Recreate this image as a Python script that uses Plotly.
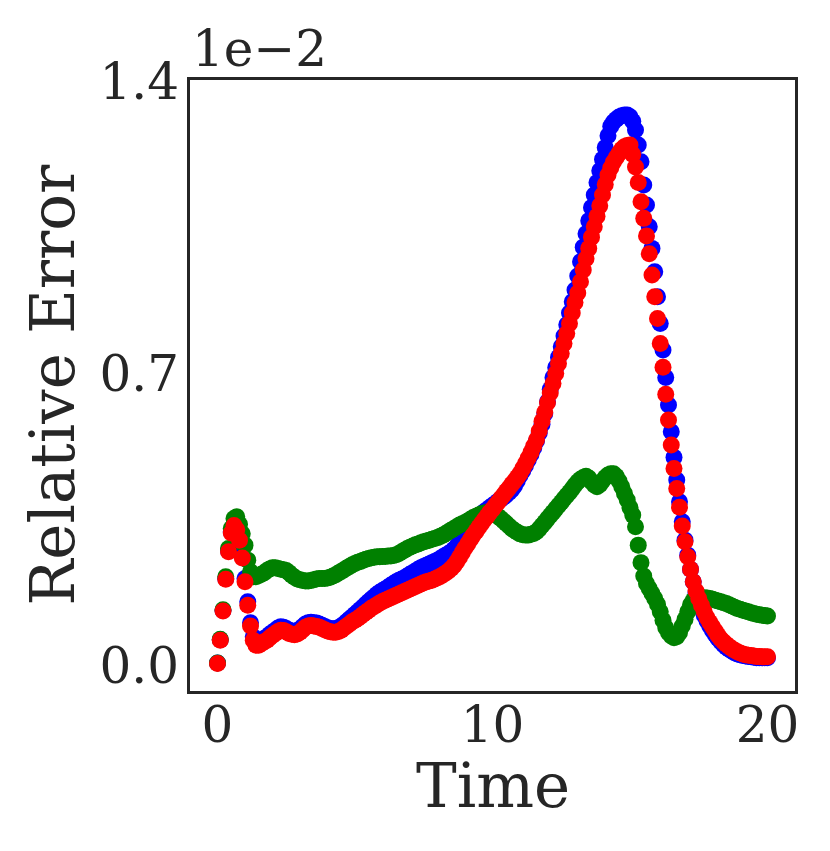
import plotly.graph_objects as go

# time grid: one sample every 0.1 from 0 to 20
time = [round(0.1 * i, 1) for i in range(201)]

# relative error (in units of 1e-2)
blue_err = [
    0.005, 0.061, 0.131, 0.208, 0.274, 0.320, 0.338, 0.330, 0.305, 0.263,
    0.208, 0.152, 0.102, 0.068, 0.056, 0.056, 0.060, 0.064, 0.068, 0.074,
    0.079, 0.084, 0.089, 0.092, 0.091, 0.088, 0.084, 0.082, 0.081, 0.083,
    0.087, 0.093, 0.099, 0.102, 0.103, 0.102, 0.101, 0.099, 0.096, 0.093,
    0.090, 0.088, 0.087, 0.088, 0.090, 0.094, 0.099, 0.105, 0.111, 0.116,
    0.122, 0.128, 0.134, 0.140, 0.147, 0.153, 0.159, 0.164, 0.170, 0.175,
    0.179, 0.183, 0.187, 0.192, 0.196, 0.200, 0.204, 0.207, 0.210, 0.214,
    0.218, 0.222, 0.226, 0.230, 0.234, 0.237, 0.240, 0.243, 0.246, 0.249,
    0.252, 0.256, 0.260, 0.264, 0.268, 0.272, 0.278, 0.285, 0.294, 0.303,
    0.312, 0.322, 0.332, 0.340, 0.348, 0.356, 0.362, 0.368, 0.373, 0.378,
    0.383, 0.388, 0.393, 0.398, 0.403, 0.408, 0.414, 0.421, 0.430, 0.442,
    0.455, 0.466, 0.479, 0.492, 0.506, 0.521, 0.538, 0.557, 0.578, 0.603,
    0.632, 0.662, 0.690, 0.714, 0.739, 0.764, 0.790, 0.817, 0.845, 0.872,
    0.900, 0.934, 0.968, 1.003, 1.035, 1.066, 1.098, 1.128, 1.158, 1.186,
    1.214, 1.242, 1.270, 1.293, 1.303, 1.310, 1.315, 1.318, 1.320, 1.320,
    1.316, 1.305, 1.284, 1.248, 1.208, 1.152, 1.104, 1.052, 1.000, 0.944,
    0.884, 0.820, 0.756, 0.690, 0.624, 0.560, 0.499, 0.444, 0.392, 0.344,
    0.300, 0.264, 0.230, 0.200, 0.173, 0.153, 0.136, 0.120, 0.106, 0.094,
    0.083, 0.073, 0.064, 0.056, 0.049, 0.043, 0.038, 0.034, 0.030, 0.027,
    0.025, 0.023, 0.022, 0.021, 0.020, 0.019, 0.018, 0.018, 0.018, 0.018,
    0.018,
]

green_err = [
    0.005, 0.062, 0.133, 0.212, 0.280, 0.328, 0.352, 0.356, 0.338, 0.315,
    0.288, 0.252, 0.224, 0.212, 0.212, 0.215, 0.218, 0.222, 0.227, 0.231,
    0.234, 0.234, 0.232, 0.230, 0.229, 0.227, 0.222, 0.216, 0.211, 0.207,
    0.205, 0.203, 0.202, 0.202, 0.203, 0.205, 0.207, 0.208, 0.208, 0.208,
    0.209, 0.211, 0.214, 0.217, 0.221, 0.225, 0.229, 0.233, 0.237, 0.241,
    0.244, 0.247, 0.249, 0.252, 0.254, 0.256, 0.258, 0.259, 0.260, 0.260,
    0.261, 0.261, 0.262, 0.262, 0.263, 0.265, 0.268, 0.272, 0.276, 0.280,
    0.283, 0.286, 0.289, 0.291, 0.294, 0.296, 0.298, 0.300, 0.302, 0.304,
    0.306, 0.309, 0.312, 0.316, 0.320, 0.324, 0.328, 0.332, 0.336, 0.339,
    0.342, 0.346, 0.350, 0.354, 0.357, 0.360, 0.363, 0.365, 0.366, 0.366,
    0.364, 0.361, 0.357, 0.352, 0.346, 0.340, 0.334, 0.328, 0.323, 0.319,
    0.315, 0.313, 0.312, 0.312, 0.314, 0.316, 0.320, 0.327, 0.335, 0.343,
    0.351, 0.359, 0.367, 0.375, 0.383, 0.391, 0.399, 0.407, 0.415, 0.423,
    0.432, 0.440, 0.446, 0.450, 0.453, 0.449, 0.440, 0.432, 0.428, 0.433,
    0.442, 0.450, 0.456, 0.459, 0.459, 0.453, 0.442, 0.428, 0.412, 0.396,
    0.378, 0.360, 0.332, 0.288, 0.246, 0.214, 0.196, 0.184, 0.172, 0.160,
    0.146, 0.128, 0.108, 0.090, 0.078, 0.070, 0.066, 0.068, 0.078, 0.094,
    0.110, 0.128, 0.145, 0.156, 0.160, 0.162, 0.162, 0.162, 0.161, 0.160,
    0.158, 0.156, 0.154, 0.152, 0.150, 0.148, 0.145, 0.142, 0.139, 0.136,
    0.134, 0.132, 0.130, 0.128, 0.126, 0.124, 0.122, 0.121, 0.120, 0.119,
    0.118,
]

red_err = [
    0.004, 0.060, 0.130, 0.206, 0.272, 0.317, 0.335, 0.325, 0.300, 0.257,
    0.200, 0.144, 0.094, 0.060, 0.048, 0.048, 0.052, 0.056, 0.060, 0.066,
    0.071, 0.076, 0.081, 0.084, 0.083, 0.080, 0.076, 0.074, 0.073, 0.075,
    0.079, 0.085, 0.091, 0.094, 0.095, 0.094, 0.093, 0.091, 0.088, 0.085,
    0.082, 0.080, 0.079, 0.079, 0.081, 0.084, 0.089, 0.094, 0.099, 0.104,
    0.108, 0.112, 0.117, 0.122, 0.127, 0.132, 0.137, 0.141, 0.145, 0.149,
    0.153, 0.156, 0.159, 0.162, 0.165, 0.168, 0.171, 0.174, 0.177, 0.180,
    0.183, 0.186, 0.189, 0.192, 0.195, 0.198, 0.200, 0.202, 0.204, 0.207,
    0.210, 0.213, 0.217, 0.221, 0.226, 0.232, 0.239, 0.248, 0.259, 0.270,
    0.281, 0.291, 0.302, 0.312, 0.321, 0.331, 0.340, 0.349, 0.357, 0.366,
    0.374, 0.383, 0.391, 0.400, 0.408, 0.417, 0.425, 0.434, 0.442, 0.451,
    0.460, 0.472, 0.484, 0.497, 0.511, 0.526, 0.541, 0.562, 0.585, 0.607,
    0.630, 0.653, 0.676, 0.700, 0.724, 0.748, 0.772, 0.796, 0.820, 0.845,
    0.870, 0.893, 0.920, 0.948, 0.975, 1.000, 1.027, 1.052, 1.077, 1.102,
    1.128, 1.153, 1.176, 1.193, 1.207, 1.218, 1.228, 1.238, 1.244, 1.247,
    1.248, 1.225, 1.195, 1.158, 1.112, 1.072, 1.030, 0.987, 0.936, 0.884,
    0.832, 0.772, 0.715, 0.650, 0.588, 0.528, 0.472, 0.424, 0.379, 0.334,
    0.296, 0.260, 0.230, 0.200, 0.178, 0.160, 0.144, 0.128, 0.114, 0.103,
    0.092, 0.082, 0.072, 0.063, 0.056, 0.050, 0.045, 0.040, 0.036, 0.032,
    0.029, 0.027, 0.025, 0.024, 0.023, 0.022, 0.021, 0.021, 0.020, 0.020,
    0.020,
]

y_ticks = [0.0, 0.7, 1.4]
y_tick_text = ["0.0", "0.7", "1.4"]
x_ticks = [0, 10, 20]

font_name = "DejaVu Serif"
ink = "#262626"

fig = go.Figure()

# draw order: blue underneath, green, red on top
for values, colour in [(blue_err, "blue"), (green_err, "green"), (red_err, "red")]:
    fig.add_trace(go.Scatter(x=time, y=values, mode="markers",
                             marker=dict(color=colour, size=17, line=dict(width=0)),
                             showlegend=False, hoverinfo="skip"))

# the page body adds an 8px margin, so the figure is 8px smaller each way
fig.update_layout(
    width=822, height=843,
    margin=dict(l=182, r=35, t=72, b=160),
    paper_bgcolor="white", plot_bgcolor="white",
    font=dict(family=font_name, color=ink, size=50),
    xaxis=dict(range=[-1, 21], tickvals=x_ticks, showgrid=False, zeroline=False,
               showline=True, mirror=True, linecolor=ink, linewidth=3,
               ticks="", ticklabelstandoff=-12, tickfont=dict(size=50)),
    yaxis=dict(range=[-0.062, 1.404], tickvals=y_ticks, ticktext=y_tick_text,
               showgrid=False, zeroline=False,
               showline=True, mirror=True, linecolor=ink, linewidth=3,
               ticks="", ticklabelstandoff=-2, tickfont=dict(size=50)),
    annotations=[
        # offset text above the y axis
        dict(text="1e\u22122", xref="paper", yref="paper", x=0, y=1,
             xanchor="left", yanchor="bottom", xshift=0, yshift=0,
             showarrow=False, font=dict(size=50)),
        dict(text="Relative Error", xref="paper", yref="paper", x=-0.228, y=0.5,
             xanchor="center", yanchor="middle", textangle=-90,
             showarrow=False, font=dict(size=61)),
        dict(text="Time", xref="paper", yref="paper", x=0.5, y=-0.154,
             xanchor="center", yanchor="middle",
             showarrow=False, font=dict(size=61)),
    ],
)

fig.write_html("out.html")
